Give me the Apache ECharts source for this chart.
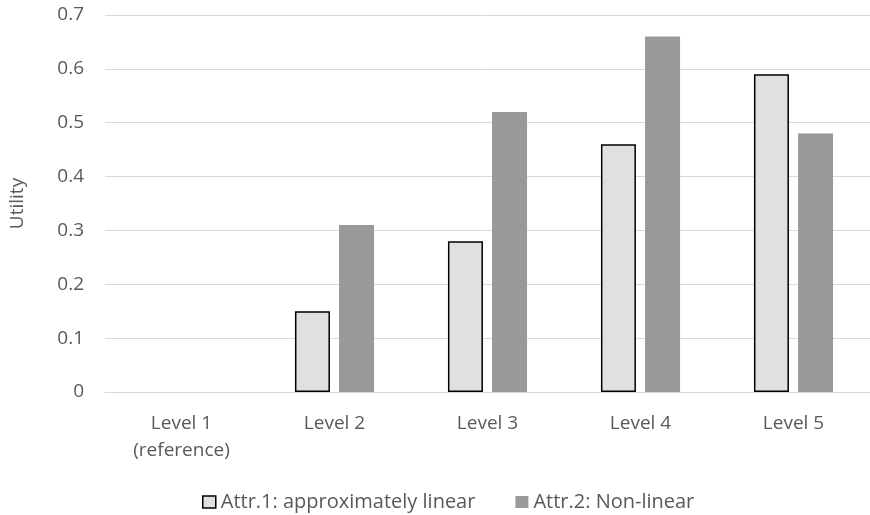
<!DOCTYPE html>
<html><head><meta charset="utf-8">
<script src="https://cdn.jsdelivr.net/npm/echarts@6/dist/echarts.min.js"></script>
<style>html,body{margin:0;padding:0;background:#fff}#c{width:870px;height:515px}</style>
</head><body><div id="c"></div>
<script>
const categories = ['Level 1\n(reference)', 'Level 2', 'Level 3', 'Level 4', 'Level 5'];
const attr1 = [0, 0.15, 0.28, 0.46, 0.59];
const attr2 = [0, 0.31, 0.52, 0.66, 0.48];
const yTicks = [0, 0.1, 0.2, 0.3, 0.4, 0.5, 0.6, 0.7];
const seriesNames = ['Attr.1: approximately linear', 'Attr.2: Non-linear'];

const FONT = 'Open Sans';
const TXT = '#595959';
const chart = echarts.init(document.getElementById('c'), null, {renderer: 'canvas'});
chart.setOption({
  animation: false,
  textStyle: {fontFamily: FONT},
  grid: {left: 103, width: 767, top: 15, height: 377, containLabel: false},
  legend: {
    top: 487, left: 197, itemWidth: 13, itemHeight: 12, itemGap: 40, itemTextGap: 4,
    textStyle: {fontFamily: FONT, fontSize: 20, color: TXT},
    data: [
      {name: seriesNames[0], icon: 'rect', itemStyle: {color: '#e0e0e0', borderColor: '#000', borderWidth: 1.5}},
      {name: seriesNames[1], icon: 'rect', itemStyle: {color: '#999999'}}
    ]
  },
  xAxis: {
    type: 'category', data: categories,
    axisLine: {lineStyle: {color: '#d9d9d9', width: 1}},
    axisTick: {show: false},
    axisLabel: {fontFamily: FONT, fontSize: 19, color: TXT, margin: 18, lineHeight: 27}
  },
  yAxis: {
    type: 'value', min: 0, max: 0.7, interval: 0.1,
    name: 'Utility', nameLocation: 'middle', nameGap: 78,
    nameTextStyle: {fontFamily: FONT, fontSize: 19, color: TXT},
    axisLine: {show: false}, axisTick: {show: false},
    splitLine: {lineStyle: {color: '#d9d9d9', width: 1}},
    axisLabel: {fontFamily: FONT, fontSize: 19, color: TXT, margin: 21,
      formatter: v => { const t = yTicks.find(x => Math.abs(x - v) < 1e-9); return t === 0 ? '0' : String(t); }}
  },
  series: [
    {name: seriesNames[0], type: 'bar', barWidth: 35, barGap: '26%',
     itemStyle: {color: '#e0e0e0', borderColor: '#000', borderWidth: 1.5},
     data: attr1.map(v => v === 0 ? {value: v, itemStyle: {borderWidth: 0}} : v)},
    {name: seriesNames[1], type: 'bar', barWidth: 35, barGap: '26%',
     itemStyle: {color: '#999999'},
     data: attr2}
  ]
});
</script></body></html>
